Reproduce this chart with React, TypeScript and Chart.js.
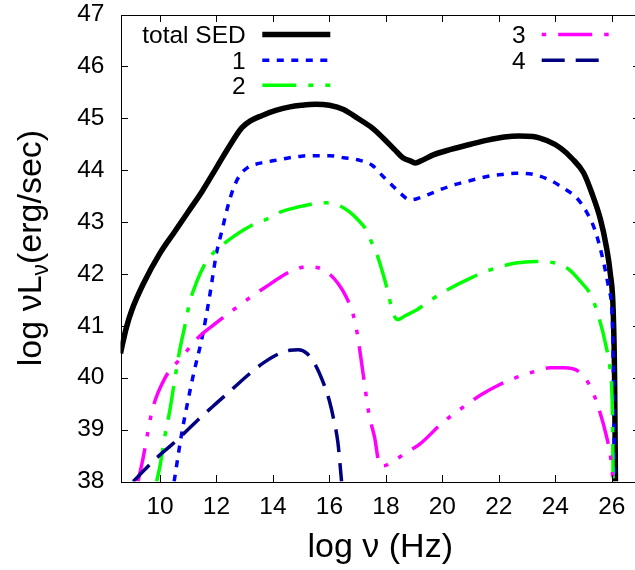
import { useEffect, useRef } from "react";
import { Chart, registerables } from "chart.js";

Chart.register(...registerables);

// ---------- data ----------
const xTickValues = [10, 12, 14, 16, 18, 20, 22, 24, 26];
const yTickValues = [38, 39, 40, 41, 42, 43, 44, 45, 46, 47];
const xRange = [8.6, 27];
const yRange = [38, 47];

const seriesLabels = ["total SED", "1", "2", "3", "4"];

const totalX = [8.6, 8.8, 9.0, 9.4, 10.0, 10.5, 11.0, 11.5, 12.0, 12.5, 12.9, 13.2, 13.6, 14.1, 14.6, 15.0, 15.5, 16.0, 16.5, 17.0, 17.5, 17.9, 18.3, 18.6, 18.9, 19.05, 19.25, 19.7, 20.3, 21.0, 21.6, 22.2, 22.7, 23.2, 23.7, 24.2, 24.6, 25.0, 25.3, 25.6, 25.8, 25.95, 26.05, 26.1, 26.13];
const totalY = [40.47, 40.95, 41.3, 41.8, 42.4, 42.8, 43.2, 43.6, 44.05, 44.5, 44.82, 44.95, 45.05, 45.15, 45.22, 45.25, 45.27, 45.25, 45.17, 45.0, 44.82, 44.62, 44.4, 44.24, 44.17, 44.14, 44.18, 44.3, 44.4, 44.5, 44.58, 44.64, 44.66, 44.65, 44.57, 44.42, 44.22, 43.95, 43.55, 43.05, 42.55, 42.0, 41.3, 40.0, 38.0];

const s1X = [10.5, 10.75, 10.95, 11.2, 11.5, 11.75, 12.0, 12.2, 12.4, 12.6, 12.8, 13.1, 13.5, 14.0, 14.5, 15.0, 15.5, 16.0, 16.5, 17.0, 17.5, 17.9, 18.2, 18.5, 18.85, 19.1, 19.5, 20.0, 20.5, 21.0, 21.5, 22.0, 22.6, 23.2, 23.8, 24.3, 24.75, 25.1, 25.4, 25.7, 25.9, 26.02, 26.07, 26.1];
const s1Y = [38.0, 38.87, 39.45, 40.1, 40.8, 41.55, 42.4, 42.85, 43.3, 43.65, 43.88, 44.05, 44.13, 44.18, 44.23, 44.27, 44.28, 44.28, 44.24, 44.2, 44.1, 43.88, 43.72, 43.56, 43.43, 43.45, 43.53, 43.64, 43.73, 43.8, 43.87, 43.91, 43.94, 43.92, 43.81, 43.65, 43.47, 43.2, 42.85, 42.25, 41.7, 41.1, 39.5, 38.0];

const s2X = [9.88, 10.0, 10.17, 10.35, 10.52, 10.7, 10.88, 11.05, 11.3, 11.55, 11.8, 12.0, 12.3, 12.6, 13.0, 13.4, 13.8, 14.3, 14.9, 15.5, 15.9, 16.3, 16.7, 17.0, 17.3, 17.5, 17.7, 17.9, 18.05, 18.25, 18.43, 18.7, 19.1, 19.6, 20.3, 21.0, 21.5, 22.0, 22.6, 23.3, 24.0, 24.5, 24.9, 25.25, 25.55, 25.8, 25.95, 26.02, 26.05];
const s2Y = [38.0, 38.3, 38.87, 39.38, 39.96, 40.54, 41.0, 41.45, 41.85, 42.15, 42.35, 42.47, 42.6, 42.72, 42.86, 42.98, 43.06, 43.2, 43.29, 43.36, 43.37, 43.33, 43.2, 43.05, 42.85, 42.6, 42.35, 42.0, 41.7, 41.25, 41.12, 41.2, 41.31, 41.5, 41.73, 41.92, 42.04, 42.13, 42.21, 42.24, 42.21, 42.08, 41.85, 41.6, 41.15, 40.6, 40.1, 39.4, 38.0];

const s3X = [9.22, 9.4, 9.55, 9.7, 9.85, 10.05, 10.35, 10.7, 11.0, 11.4, 12.0, 12.6, 13.2, 13.8, 14.3, 14.7, 15.2, 15.6, 15.95, 16.3, 16.6, 16.85, 17.0, 17.2, 17.4, 17.6, 17.78, 17.9, 18.25, 18.7, 19.2, 20.0, 20.6, 21.4, 22.0, 22.6, 23.2, 23.8, 24.3, 24.9, 25.3, 25.6, 25.8, 25.95, 26.05];
const s3Y = [38.0, 38.45, 38.9, 39.32, 39.6, 39.86, 40.15, 40.35, 40.55, 40.8, 41.06, 41.31, 41.55, 41.77, 41.95, 42.07, 42.14, 42.12, 42.02, 41.82, 41.55, 41.2, 40.8, 40.05, 39.3, 38.85, 38.32, 38.3, 38.39, 38.55, 38.72, 39.13, 39.38, 39.68, 39.86, 40.0, 40.11, 40.19, 40.19, 40.09, 39.76, 39.3, 38.9, 38.5, 38.0];

const s4X = [9.05, 9.5, 9.93, 10.4, 10.8, 11.35, 12.0, 12.6, 13.2, 13.7, 14.2, 14.6, 14.9, 15.2, 15.5, 15.8, 16.0, 16.15, 16.3, 16.43];
const s4Y = [38.0, 38.25, 38.48, 38.7, 38.9, 39.19, 39.51, 39.8, 40.09, 40.3, 40.46, 40.53, 40.54, 40.47, 40.25, 39.88, 39.55, 39.2, 38.75, 38.0];

// ---------- styles ----------
const FONT = '"Liberation Sans", Arial, Helvetica, sans-serif';
const colors = ["#000000", "#0000ff", "#00ff00", "#ff00ff", "#000080"];
const widths = [5.5, 3.5, 3.5, 3.5, 3.5];
const dashes: number[][] = [[], [7, 7.5], [34, 12, 5, 12], [34, 12, 4.5, 12, 4.5, 12], [23, 11]];
const legendDashOffset = [0, 0, 0, 62.5, 0];

const pts = (xs: number[], ys: number[]) => xs.map((x, i) => ({ x, y: ys[i] }));

const decorPlugin = {
  id: "decor",
  afterDraw(chart: any) {
    const { ctx, chartArea: a, scales } = chart;
    ctx.save();
    ctx.setLineDash([]);
    ctx.globalAlpha = 1;
    ctx.fillStyle = "#000";
    // frame (as filled rects)
    const L = Math.round(a.left), R = Math.round(a.right), T = Math.round(a.top), B = Math.round(a.bottom);
    ctx.fillRect(L, T, R - L, 1);
    ctx.fillRect(L, B, R - L + 1, 1);
    ctx.fillRect(L, T, 1, B - T);
    ctx.fillRect(R, T, 1, B - T);
    // inward ticks
    const tl = 7;
    for (const v of xTickValues) {
      const px = Math.round(scales.x.getPixelForValue(v));
      ctx.fillRect(px, B - tl, 1, tl);
      ctx.fillRect(px, T, 1, tl);
    }
    for (const v of yTickValues) {
      const py = Math.round(scales.y.getPixelForValue(v));
      ctx.fillRect(L, py, tl, 1);
      ctx.fillRect(R - tl, py, tl, 1);
    }

    // x title
    ctx.font = `34px ${FONT}`;
    ctx.textAlign = "center";
    ctx.textBaseline = "alphabetic";
    ctx.fillText("log \u03bd (Hz)", (a.left + a.right) / 2, 556.5);

    // y title (rotated, with subscript)
    const mainFont = `34px ${FONT}`;
    const subFont = `23px ${FONT}`;
    const p1 = "log \u03bdL";
    const p2 = "\u03bd";
    const p3 = "(erg/sec)";
    ctx.font = mainFont;
    const w1 = ctx.measureText(p1).width;
    const w3 = ctx.measureText(p3).width;
    ctx.font = subFont;
    const w2 = ctx.measureText(p2).width;
    const total = w1 + w2 + w3;
    ctx.save();
    ctx.translate(40.5, (a.top + a.bottom) / 2);
    ctx.rotate(-Math.PI / 2);
    ctx.textAlign = "left";
    let cx = -total / 2;
    ctx.font = mainFont;
    ctx.fillText(p1, cx, 0);
    cx += w1;
    ctx.font = subFont;
    ctx.fillText(p2, cx, 7);
    cx += w2;
    ctx.font = mainFont;
    ctx.fillText(p3, cx, 0);
    ctx.restore();

    // legend
    const entries = [
      { col: 0, row: 0 },
      { col: 0, row: 1 },
      { col: 0, row: 2 },
      { col: 1, row: 0 },
      { col: 1, row: 1 },
    ];
    const colTextRight = [245.7, 525.7];
    const colLineStart = [262.3, 541.7];
    const sampleLen = 68;
    const rowY = [34.5, 60.2, 85.3];
    ctx.font = `24.5px ${FONT}`;
    ctx.textAlign = "right";
    entries.forEach((e, i) => {
      const y = rowY[e.row];
      ctx.fillStyle = "#000";
      ctx.fillText(seriesLabels[i], colTextRight[e.col], y + 8.8);
      ctx.strokeStyle = colors[i];
      ctx.lineWidth = widths[i];
      ctx.lineCap = "butt";
      ctx.setLineDash(dashes[i]);
      ctx.lineDashOffset = legendDashOffset[i];
      ctx.beginPath();
      ctx.moveTo(colLineStart[e.col], y);
      ctx.lineTo(colLineStart[e.col] + sampleLen, y);
      ctx.stroke();
    });
    ctx.restore();
  },
};

const zeroPad = (s: any) => {
  s.paddingTop = 0;
  s.paddingBottom = 0;
  s.paddingLeft = 0;
  s.paddingRight = 0;
};

export default function App() {
  const ref = useRef<HTMLCanvasElement>(null);
  useEffect(() => {
    const xsList = [totalX, s1X, s2X, s3X, s4X];
    const ysList = [totalY, s1Y, s2Y, s3Y, s4Y];
    const datasets = seriesLabels.map((label, i) => ({
      label,
      data: pts(xsList[i], ysList[i]),
      borderColor: colors[i],
      backgroundColor: colors[i],
      borderWidth: widths[i],
      borderDash: dashes[i],
      borderCapStyle: "butt" as const,
      borderJoinStyle: "round" as const,
      pointRadius: 0,
      fill: false,
      cubicInterpolationMode: "monotone" as const,
      order: 5 - i,
    }));
    const chart = new Chart(ref.current!, {
      type: "line",
      data: { datasets },
      options: {
        animation: false,
        responsive: false,
        devicePixelRatio: 1,
        layout: { padding: { left: 0, top: 14.5, right: 20, bottom: 0 } },
        plugins: { legend: { display: false }, tooltip: { enabled: false } },
        scales: {
          x: {
            type: "linear",
            min: xRange[0],
            max: xRange[1],
            grid: { display: false, drawTicks: false },
            border: { display: false },
            afterBuildTicks: (s: any) => {
              s.ticks = xTickValues.map((v) => ({ value: v }));
            },
            afterFit: (s: any) => {
              s.height = 88.5;
              zeroPad(s);
            },
            ticks: {
              color: "#000",
              padding: 11,
              maxRotation: 0,
              autoSkip: false,
              font: { family: FONT, size: 24.5 },
              callback: (v: any) => String(v),
            },
          },
          y: {
            type: "linear",
            min: yRange[0],
            max: yRange[1],
            grid: { display: false, drawTicks: false },
            border: { display: false },
            afterBuildTicks: (s: any) => {
              s.ticks = yTickValues.map((v) => ({ value: v }));
            },
            afterFit: (s: any) => {
              s.width = 120.5;
              zeroPad(s);
            },
            ticks: {
              color: "#000",
              padding: 16,
              autoSkip: false,
              font: { family: FONT, size: 24.5 },
              callback: (v: any) => String(v),
            },
          },
        },
      },
      plugins: [decorPlugin],
    });
    return () => chart.destroy();
  }, []);
  return (
    <div
      style={{
        position: "absolute",
        left: 0,
        top: 0,
        width: 635,
        height: 570,
        overflow: "hidden",
        background: "#fff",
      }}
    >
      <canvas ref={ref} width={660} height={570} style={{ display: "block", width: 660, height: 570 }} />
    </div>
  );
}
